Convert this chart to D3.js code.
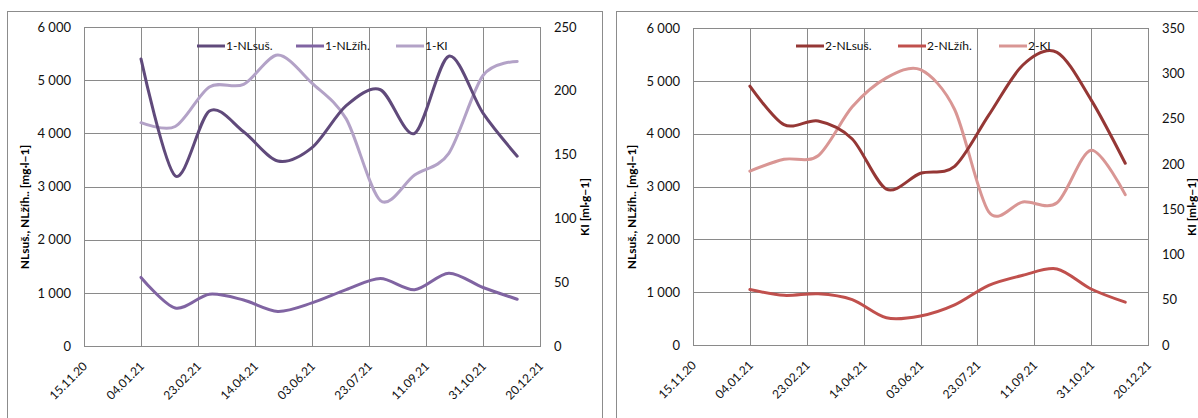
<!DOCTYPE html>
<html>
<head>
<meta charset="utf-8">
<script src="https://cdn.jsdelivr.net/npm/d3@7/dist/d3.min.js"></script>
<style>
  html, body { margin: 0; padding: 0; background: #fff; }
  svg { display: block; font-family: "Lato", "Open Sans", sans-serif; }
</style>
</head>
<body>
<svg id="chart" width="1198" height="418"></svg>
<script>
// ---- DATA ----
const sampleDates = ["04.01.21","03.02.21","05.03.21","04.04.21","04.05.21","03.06.21","03.07.21","02.08.21","01.09.21","01.10.21","31.10.21","30.11.21"];
const xTickLabels = ["15.11.20","04.01.21","23.02.21","14.04.21","03.06.21","23.07.21","11.09.21","31.10.21","20.12.21"];
const leftTicks = [0, 1000, 2000, 3000, 4000, 5000, 6000];
const right1Ticks = [0, 50, 100, 150, 200, 250];
const right2Ticks = [0, 50, 100, 150, 200, 250, 300, 350];

const nlsus1 = [5400, 3200, 4420, 4030, 3480, 3730, 4520, 4820, 4000, 5450, 4380, 3570];
const nlzih1 = [1290, 715, 975, 865, 650, 810, 1060, 1270, 1060, 1370, 1100, 880];
const ki1    = [175, 172, 203, 205, 228, 206, 178, 114, 134, 151, 212, 223];

const nlsus2 = [4900, 4170, 4240, 3900, 2950, 3250, 3380, 4350, 5300, 5540, 4640, 3440];
const nlzih2 = [1050, 940, 970, 860, 515, 550, 760, 1130, 1320, 1440, 1060, 810];
const ki2    = [192, 205, 209, 263, 295, 304, 260, 147, 158, 157, 215, 166];

const seriesNames1 = ["1-NLsuš.", "1-NLžíh.", "1-KI"];
const seriesNames2 = ["2-NLsuš.", "2-NLžíh.", "2-KI"];
const leftTitle = "NLsuš., NLžíh.. [mg·l−1]";
const rightTitle = "KI [ml·g−1]";

// ---- DRAW ----
const parse = d3.utcParse("%d.%m.%y");
const svg = d3.select("#chart");
const gridColor = "#8a8a8a";

function drawChart(cfg) {
  const g = svg.append("g");
  // outer frame
  g.append("rect").attr("x", cfg.frame[0] + 0.5).attr("y", cfg.frame[1] + 0.5)
    .attr("width", cfg.frame[2]).attr("height", cfg.frame[3])
    .attr("fill", "none").attr("stroke", "#8c8c8c").attr("stroke-width", 1);

  const x = d3.scaleUtc()
    .domain([parse(xTickLabels[0]), parse(xTickLabels[xTickLabels.length - 1])])
    .range([cfg.left, cfg.right]);
  const yL = d3.scaleLinear().domain([0, 6000]).range([cfg.bottom, cfg.top]);
  const yR = d3.scaleLinear().domain([0, cfg.rightMax]).range([cfg.bottom, cfg.top]);

  // grid
  const grid = g.append("g").attr("stroke", gridColor).attr("stroke-width", 1).attr("shape-rendering", "crispEdges");
  leftTicks.forEach(t => grid.append("line")
    .attr("x1", cfg.left).attr("x2", cfg.right).attr("y1", Math.round(yL(t)) + 0.5).attr("y2", Math.round(yL(t)) + 0.5));
  xTickLabels.forEach(t => grid.append("line")
    .attr("x1", Math.round(x(parse(t))) + 0.5).attr("x2", Math.round(x(parse(t))) + 0.5)
    .attr("y1", cfg.top).attr("y2", cfg.bottom));
  g.append("rect").attr("x", cfg.left + 0.5).attr("y", Math.round(cfg.top) + 0.5)
    .attr("width", cfg.right - cfg.left).attr("height", cfg.bottom - cfg.top)
    .attr("fill", "none").attr("stroke", gridColor).attr("shape-rendering", "crispEdges");

  // left axis
  const axL = g.append("g").attr("transform", `translate(${cfg.left},0)`)
    .call(d3.axisLeft(yL).tickValues(leftTicks).tickSize(0).tickPadding(13)
      .tickFormat(d => d3.format(",")(d).replace(/,/g, "\u00a0")));
  axL.select(".domain").remove();
  axL.selectAll("text").attr("font-size", 13).attr("fill", "#111").attr("font-family", "Lato");

  // right axis
  const axR = g.append("g").attr("transform", `translate(${cfg.right},0)`)
    .call(d3.axisRight(yR).tickValues(cfg.rightTicks).tickSize(0).tickPadding(14));
  axR.select(".domain").remove();
  axR.selectAll("text").attr("font-size", 13).attr("fill", "#111").attr("font-family", "Lato");

  // x labels
  const axX = g.append("g");
  xTickLabels.forEach(t => {
    axX.append("text")
      .attr("transform", `translate(${x(parse(t)) + 4},${cfg.bottom + 21}) rotate(-45)`)
      .attr("text-anchor", "end").attr("font-size", 12).attr("fill", "#111")
      .text(t);
  });

  // axis titles
  g.append("text").attr("transform", `translate(${cfg.leftTitleX},207) rotate(-90)`)
    .attr("text-anchor", "middle").attr("font-size", 12).attr("font-weight", "bold").attr("fill", "#000")
    .text(leftTitle);
  g.append("text").attr("transform", `translate(${cfg.rightTitleX},207) rotate(-90)`)
    .attr("text-anchor", "middle").attr("font-size", 12).attr("font-weight", "bold").attr("fill", "#000")
    .text(rightTitle);

  // lines
  const dates = sampleDates.map(parse);
  const lineL = d3.line().x((d, i) => x(dates[i])).y(d => yL(d)).curve(d3.curveCardinal.tension(0.1));
  const lineR = d3.line().x((d, i) => x(dates[i])).y(d => yR(d)).curve(d3.curveCardinal.tension(0.1));
  const series = [
    { v: cfg.s[0], c: cfg.colors[0], line: lineL },
    { v: cfg.s[1], c: cfg.colors[1], line: lineL },
    { v: cfg.s[2], c: cfg.colors[2], line: lineR }
  ];
  [2, 0, 1].forEach(k => {
    g.append("path").attr("d", series[k].line(series[k].v))
      .attr("fill", "none").attr("stroke", series[k].c).attr("stroke-width", 3)
      .attr("stroke-linecap", "round").attr("stroke-linejoin", "round");
  });

  // legend
  cfg.legendX.forEach((lx, k) => {
    g.append("line").attr("x1", lx).attr("x2", lx + 28).attr("y1", 46).attr("y2", 46)
      .attr("stroke", cfg.colors[k]).attr("stroke-width", 3);
    g.append("text").attr("x", lx + 29).attr("y", 46).attr("dy", "0.35em")
      .attr("font-size", 12).attr("fill", "#111").text(cfg.names[k]);
  });
}

drawChart({
  frame: [7, 11, 595, 420],
  left: 84, right: 540, top: 27, bottom: 346,
  rightMax: 250, rightTicks: right1Ticks,
  s: [nlsus1, nlzih1, ki1],
  colors: ["#604A7B", "#8064A2", "#B3A2C7"],
  names: seriesNames1,
  legendX: [197, 296, 396],
  leftTitleX: 29, rightTitleX: 589
});

drawChart({
  frame: [616, 11, 600, 420],
  left: 693, right: 1148, top: 28, bottom: 345,
  rightMax: 350, rightTicks: right2Ticks,
  s: [nlsus2, nlzih2, ki2],
  colors: ["#953735", "#C0504D", "#D99694"],
  names: seriesNames2,
  legendX: [796, 898, 999],
  leftTitleX: 636, rightTitleX: 1196
});
</script>
</body>
</html>
